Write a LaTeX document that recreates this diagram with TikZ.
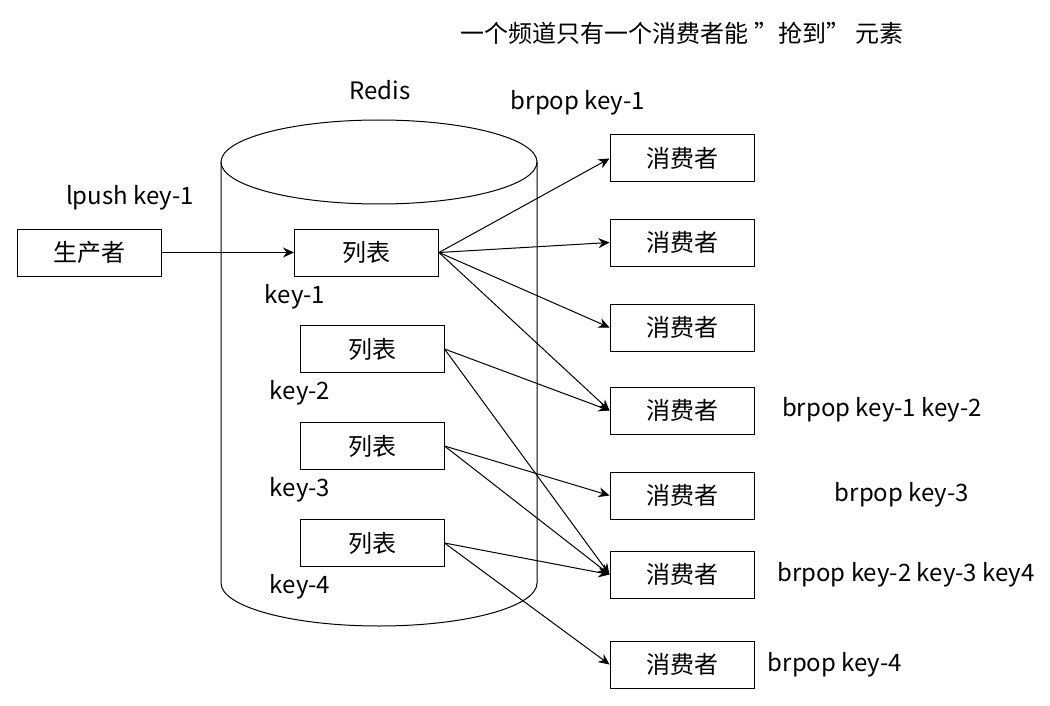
\documentclass[tikz,border=0pt]{standalone}
\usepackage{fontspec}
\setmainfont{Noto Sans CJK SC}
\usepackage{tikz}
\usetikzlibrary{arrows.meta, positioning}
\tikzset{box/.style={draw, minimum width=72pt, minimum height=23.5pt, inner sep=0pt},
  keylabel/.style={inner sep=0pt}}

\begin{document}
\begin{tikzpicture}[>={Stealth[length=5.5pt, width=5pt, inset=1.8pt]}, line width=0.5pt, x=0.5pt, y=0.5pt, every node/.style={font=\fontsize{12pt}{14pt}\selectfont}]
\useasboundingbox (0,0) rectangle (1050,-706);
\node[inner sep=0pt] (title) at (682,-33) {一个频道只有一个消费者能 ”抢到” 元素};
% redis cylinder
\draw (221,-162) -- (221,-583) arc[start angle=180, end angle=360, x radius=158, y radius=43] -- (537,-162);
\draw (379,-162) ellipse[x radius=158, y radius=42];
\node[inner sep=0pt] (redis) at (380,-90) {Redis};
\node[box] (prod) at (89.5,-252.5) {生产者};
\node[inner sep=0pt] (push) at (130,-198) {lpush key-1};
\node[box] (k1) at (366.5,-252.5) {列表};
\node[box] (k2) at (372,-349) {列表};
\node[box] (k3) at (372,-446) {列表};
\node[box] (k4) at (372,-543) {列表};
\node[keylabel] (n1) at (295,-297) {key-1};
\node[keylabel] (n2) at (300,-393) {key-2};
\node[keylabel] (n3) at (300,-490) {key-3};
\node[keylabel] (n4) at (300,-587) {key-4};
% consumers
\node[box] (c1) at (682,-158.5) {消费者};
\node[box] (c2) at (682,-242.5) {消费者};
\node[box] (c3) at (682,-327.5) {消费者};
\node[box] (c4) at (682,-410.5) {消费者};
\node[box] (c5) at (682,-495.5) {消费者};
\node[box] (c6) at (682,-574.5) {消费者};
\node[box] (c7) at (682,-664.5) {消费者};
\node[keylabel] (b1) at (578,-103) {brpop key-1};
\node[keylabel] (b4) at (882,-410) {brpop key-1 key-2};
\node[keylabel] (b5) at (902,-495) {brpop key-3};
\node[keylabel] (b6) at (906,-575) {brpop key-2 key-3 key4};
\node[keylabel] (b7) at (835,-665) {brpop key-4};
\draw[->] (prod) -- (k1);
\draw[->] (k1.east) -- (c1.west);
\draw[->] (k1.east) -- (c2.west);
\draw[->] (k1.east) -- (c3.west);
\draw[->] (k1.east) -- (c4.west);
\draw[->] (k2.east) -- (c4.west);
\draw[->] (k2.east) -- (c6.west);
\draw[->] (k3.east) -- (c5.west);
\draw[->] (k3.east) -- (c6.west);
\draw[->] (k4.east) -- (c6.west);
\draw[->] (k4.east) -- (c7.west);
\end{tikzpicture}
\end{document}
